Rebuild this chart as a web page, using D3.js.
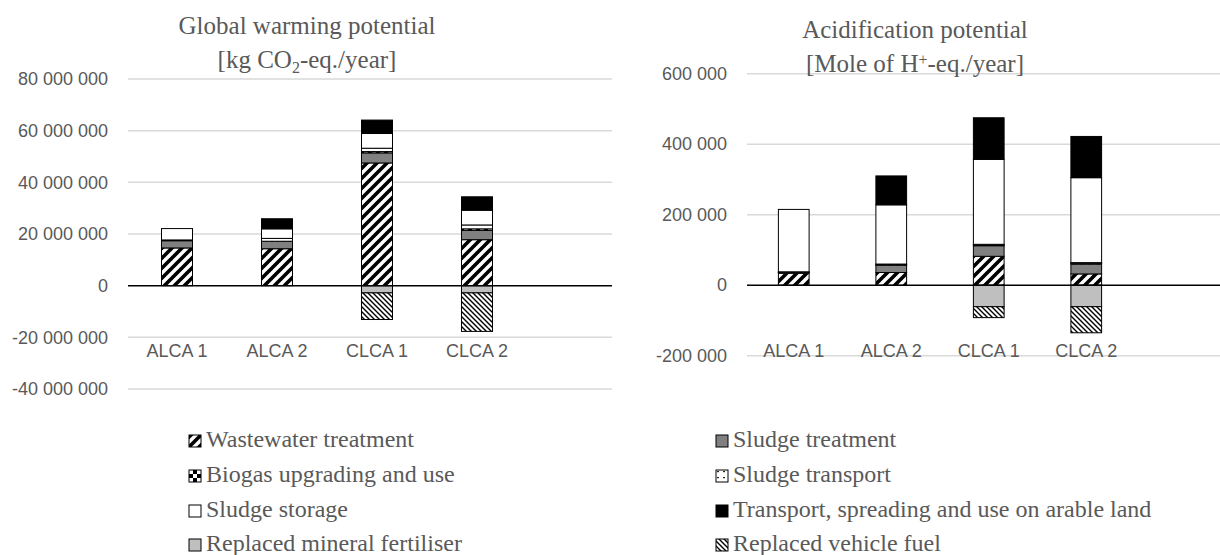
<!DOCTYPE html>
<html>
<head>
<meta charset="utf-8">
<style>
  body { margin: 0; background: #fff; }
  svg { display: block; }
  .tick text { font-family: "Liberation Sans", Arial, sans-serif; font-size: 18px; fill: #595959; }
  .grid { stroke: #d9d9d9; stroke-width: 1.5; }
  .seg { stroke: #000; stroke-width: 1; }
</style>
<script src="https://d3js.org/d3.v7.min.js"></script>
</head>
<body>
<svg width="1220" height="555"></svg>
<script>
const categories = ['ALCA 1', 'ALCA 2', 'CLCA 1', 'CLCA 2'];
const seriesNames = [
  'Wastewater treatment', 'Sludge treatment',
  'Biogas upgrading and use', 'Sludge transport',
  'Sludge storage', 'Transport, spreading and use on arable land',
  'Replaced mineral fertiliser', 'Replaced vehicle fuel'
];

// global warming potential, kg CO2-eq./year
const gwpWastewater   = [14600000, 14300000, 47500000, 17800000];
const gwpSludgeTreat  = [2800000, 2900000, 3900000, 3600000];
const gwpBiogas       = [0, 0, 500000, 600000];
const gwpSludgeTrans  = [300000, 1100000, 1300000, 1500000];
const gwpStorage      = [4400000, 3700000, 5700000, 5700000];
const gwpSpreading    = [0, 3900000, 5200000, 5200000];
const gwpFertiliser   = [0, 0, -2800000, -2800000];
const gwpVehicleFuel  = [0, 0, -10300000, -14900000];
const gwpTicks = [-40000000, -20000000, 0, 20000000, 40000000, 60000000, 80000000];

// acidification potential, mole H+-eq./year
const apWastewater  = [34000, 36000, 82000, 32000];
const apSludgeTreat = [2000, 21000, 30000, 28000];
const apBiogas      = [1000, 1000, 2000, 2000];
const apSludgeTrans = [1000, 2000, 2000, 2000];
const apStorage     = [177000, 168000, 241000, 241000];
const apSpreading   = [0, 82000, 118000, 117000];
const apFertiliser  = [0, 0, -61000, -61000];
const apVehicleFuel = [0, 0, -31000, -74000];
const apTicks = [-200000, 0, 200000, 400000, 600000];

const fills = ['url(#p-ww)', '#808080', 'url(#p-bio)', 'url(#p-trans)',
               '#ffffff', '#000000', '#bfbfbf', 'url(#p-fuel)'];
const SERIF = '"Liberation Serif", "Times New Roman", Times, serif';

const svg = d3.select('svg');
svg.append('rect').attr('width', 1220).attr('height', 555).attr('fill', '#fff');

// patterns
const defs = svg.append('defs');
function pat(id, w, h) {
  const p = defs.append('pattern').attr('id', id)
    .attr('patternUnits', 'userSpaceOnUse').attr('width', w).attr('height', h);
  p.append('rect').attr('width', w).attr('height', h).attr('fill', '#fff');
  return p;
}
pat('p-ww', 10, 10).append('path')
  .attr('d', 'M-2.5,2.5L2.5,-2.5M0,10L10,0M7.5,12.5L12.5,7.5')
  .attr('stroke', '#000').attr('stroke-width', 3.6);
pat('p-fuel', 5, 5).append('path')
  .attr('d', 'M0,0L5,5M-1.25,3.75L1.25,6.25M3.75,-1.25L6.25,1.25')
  .attr('stroke', '#000').attr('stroke-width', 1.4);
const bio = pat('p-bio', 8, 8);
bio.append('rect').attr('width', 4).attr('height', 4).attr('fill', '#000');
bio.append('rect').attr('x', 4).attr('y', 4).attr('width', 4).attr('height', 4).attr('fill', '#000');
pat('p-trans', 6, 6).append('rect').attr('x', 1).attr('y', 1).attr('width', 2).attr('height', 1.2).attr('fill', '#222');

const locale = d3.formatLocale({ decimal: '.', thousands: '\u00a0', grouping: [3], currency: ['', ''], minus: '-' });
const fmt = locale.format(',.0f');

function drawChart(cfg) {
  const rows = categories.map((c, i) => {
    const r = { cat: c };
    seriesNames.forEach((s, j) => { r[s] = cfg.series[j][i]; });
    return r;
  });
  const stacked = d3.stack().keys(seriesNames).offset(d3.stackOffsetDiverging)(rows);

  const x = d3.scaleBand().domain(categories).range(cfg.xRange)
    .paddingInner(cfg.pad).paddingOuter(cfg.pad / 2);
  const y = d3.scaleLinear().domain(d3.extent(cfg.ticks)).range(cfg.yRange);

  const g = svg.append('g');

  g.selectAll('.grid').data(cfg.ticks.filter(t => t !== 0)).join('line')
    .attr('class', 'grid')
    .attr('x1', cfg.gridX[0]).attr('x2', cfg.gridX[1])
    .attr('y1', d => y(d)).attr('y2', d => y(d));

  g.append('g').attr('transform', `translate(${cfg.labelX},0)`)
    .call(d3.axisLeft(y).tickValues(cfg.ticks).tickSize(0).tickPadding(0).tickFormat(fmt))
    .call(a => a.select('.domain').remove());

  g.append('g').attr('transform', 'translate(0,344)')
    .call(d3.axisBottom(x).tickSize(0).tickPadding(0))
    .call(a => a.select('.domain').remove());

  g.selectAll('.layer').data(stacked).join('g')
    .attr('fill', (d, i) => fills[i])
    .selectAll('rect').data(d => d.filter(p => p[1] !== p[0])).join('rect')
    .attr('class', 'seg')
    .attr('x', d => x(d.data.cat))
    .attr('width', x.bandwidth())
    .attr('y', d => y(Math.max(d[0], d[1])))
    .attr('height', d => Math.abs(y(d[0]) - y(d[1])));

  g.append('line')
    .attr('x1', cfg.gridX[0]).attr('x2', cfg.gridX[1])
    .attr('y1', y(0)).attr('y2', y(0))
    .attr('stroke', '#000').attr('stroke-width', 1.5);

  const t = g.append('text')
    .attr('font-family', SERIF).attr('font-size', 25).attr('fill', '#595959')
    .attr('text-anchor', 'middle');
  t.append('tspan').attr('x', cfg.titleX).attr('y', cfg.titleY[0]).text(cfg.title[0]);
  const t2 = t.append('tspan').attr('x', cfg.titleX).attr('y', cfg.titleY[1]);
  t2.append('tspan').text(cfg.title[1]);
  t2.append('tspan').attr('font-size', 16).attr('dy', cfg.supShift).text(cfg.title[2]);
  t2.append('tspan').attr('dy', -cfg.supShift).text(cfg.title[3]);
}

drawChart({
  series: [gwpWastewater, gwpSludgeTreat, gwpBiogas, gwpSludgeTrans,
           gwpStorage, gwpSpreading, gwpFertiliser, gwpVehicleFuel],
  ticks: gwpTicks,
  xRange: [127, 527], pad: 0.69,
  yRange: [389, 79],
  gridX: [128, 612], labelX: 108,
  title: ['Global warming potential', '[kg CO', '2', '-eq./year]'],
  titleX: 307, titleY: [34, 68], supShift: 5
});

drawChart({
  series: [apWastewater, apSludgeTreat, apBiogas, apSludgeTrans,
           apStorage, apSpreading, apFertiliser, apVehicleFuel],
  ticks: apTicks,
  xRange: [745, 1135], pad: 0.685,
  yRange: [355.7, 73.7],
  gridX: [747, 1220], labelX: 727,
  title: ['Acidification potential', '[Mole of H', '+', '-eq./year]'],
  titleX: 915, titleY: [38, 72], supShift: -7
});

// legend
const legendCols = [189, 716];
const legendRows = [447, 482, 517, 551];
const leg = svg.append('g')
  .selectAll('g').data(seriesNames).join('g')
  .attr('transform', (d, i) => `translate(${legendCols[i % 2]},${legendRows[Math.floor(i / 2)]})`);
leg.append('rect').attr('x', 0).attr('y', -12).attr('width', 12).attr('height', 12)
  .attr('fill', (d, i) => fills[i]).attr('stroke', '#000').attr('stroke-width', 1);
leg.append('text').attr('x', 17).attr('y', 0)
  .attr('font-family', SERIF).attr('font-size', 24).attr('fill', '#595959')
  .text(d => d);
</script>
</body>
</html>
